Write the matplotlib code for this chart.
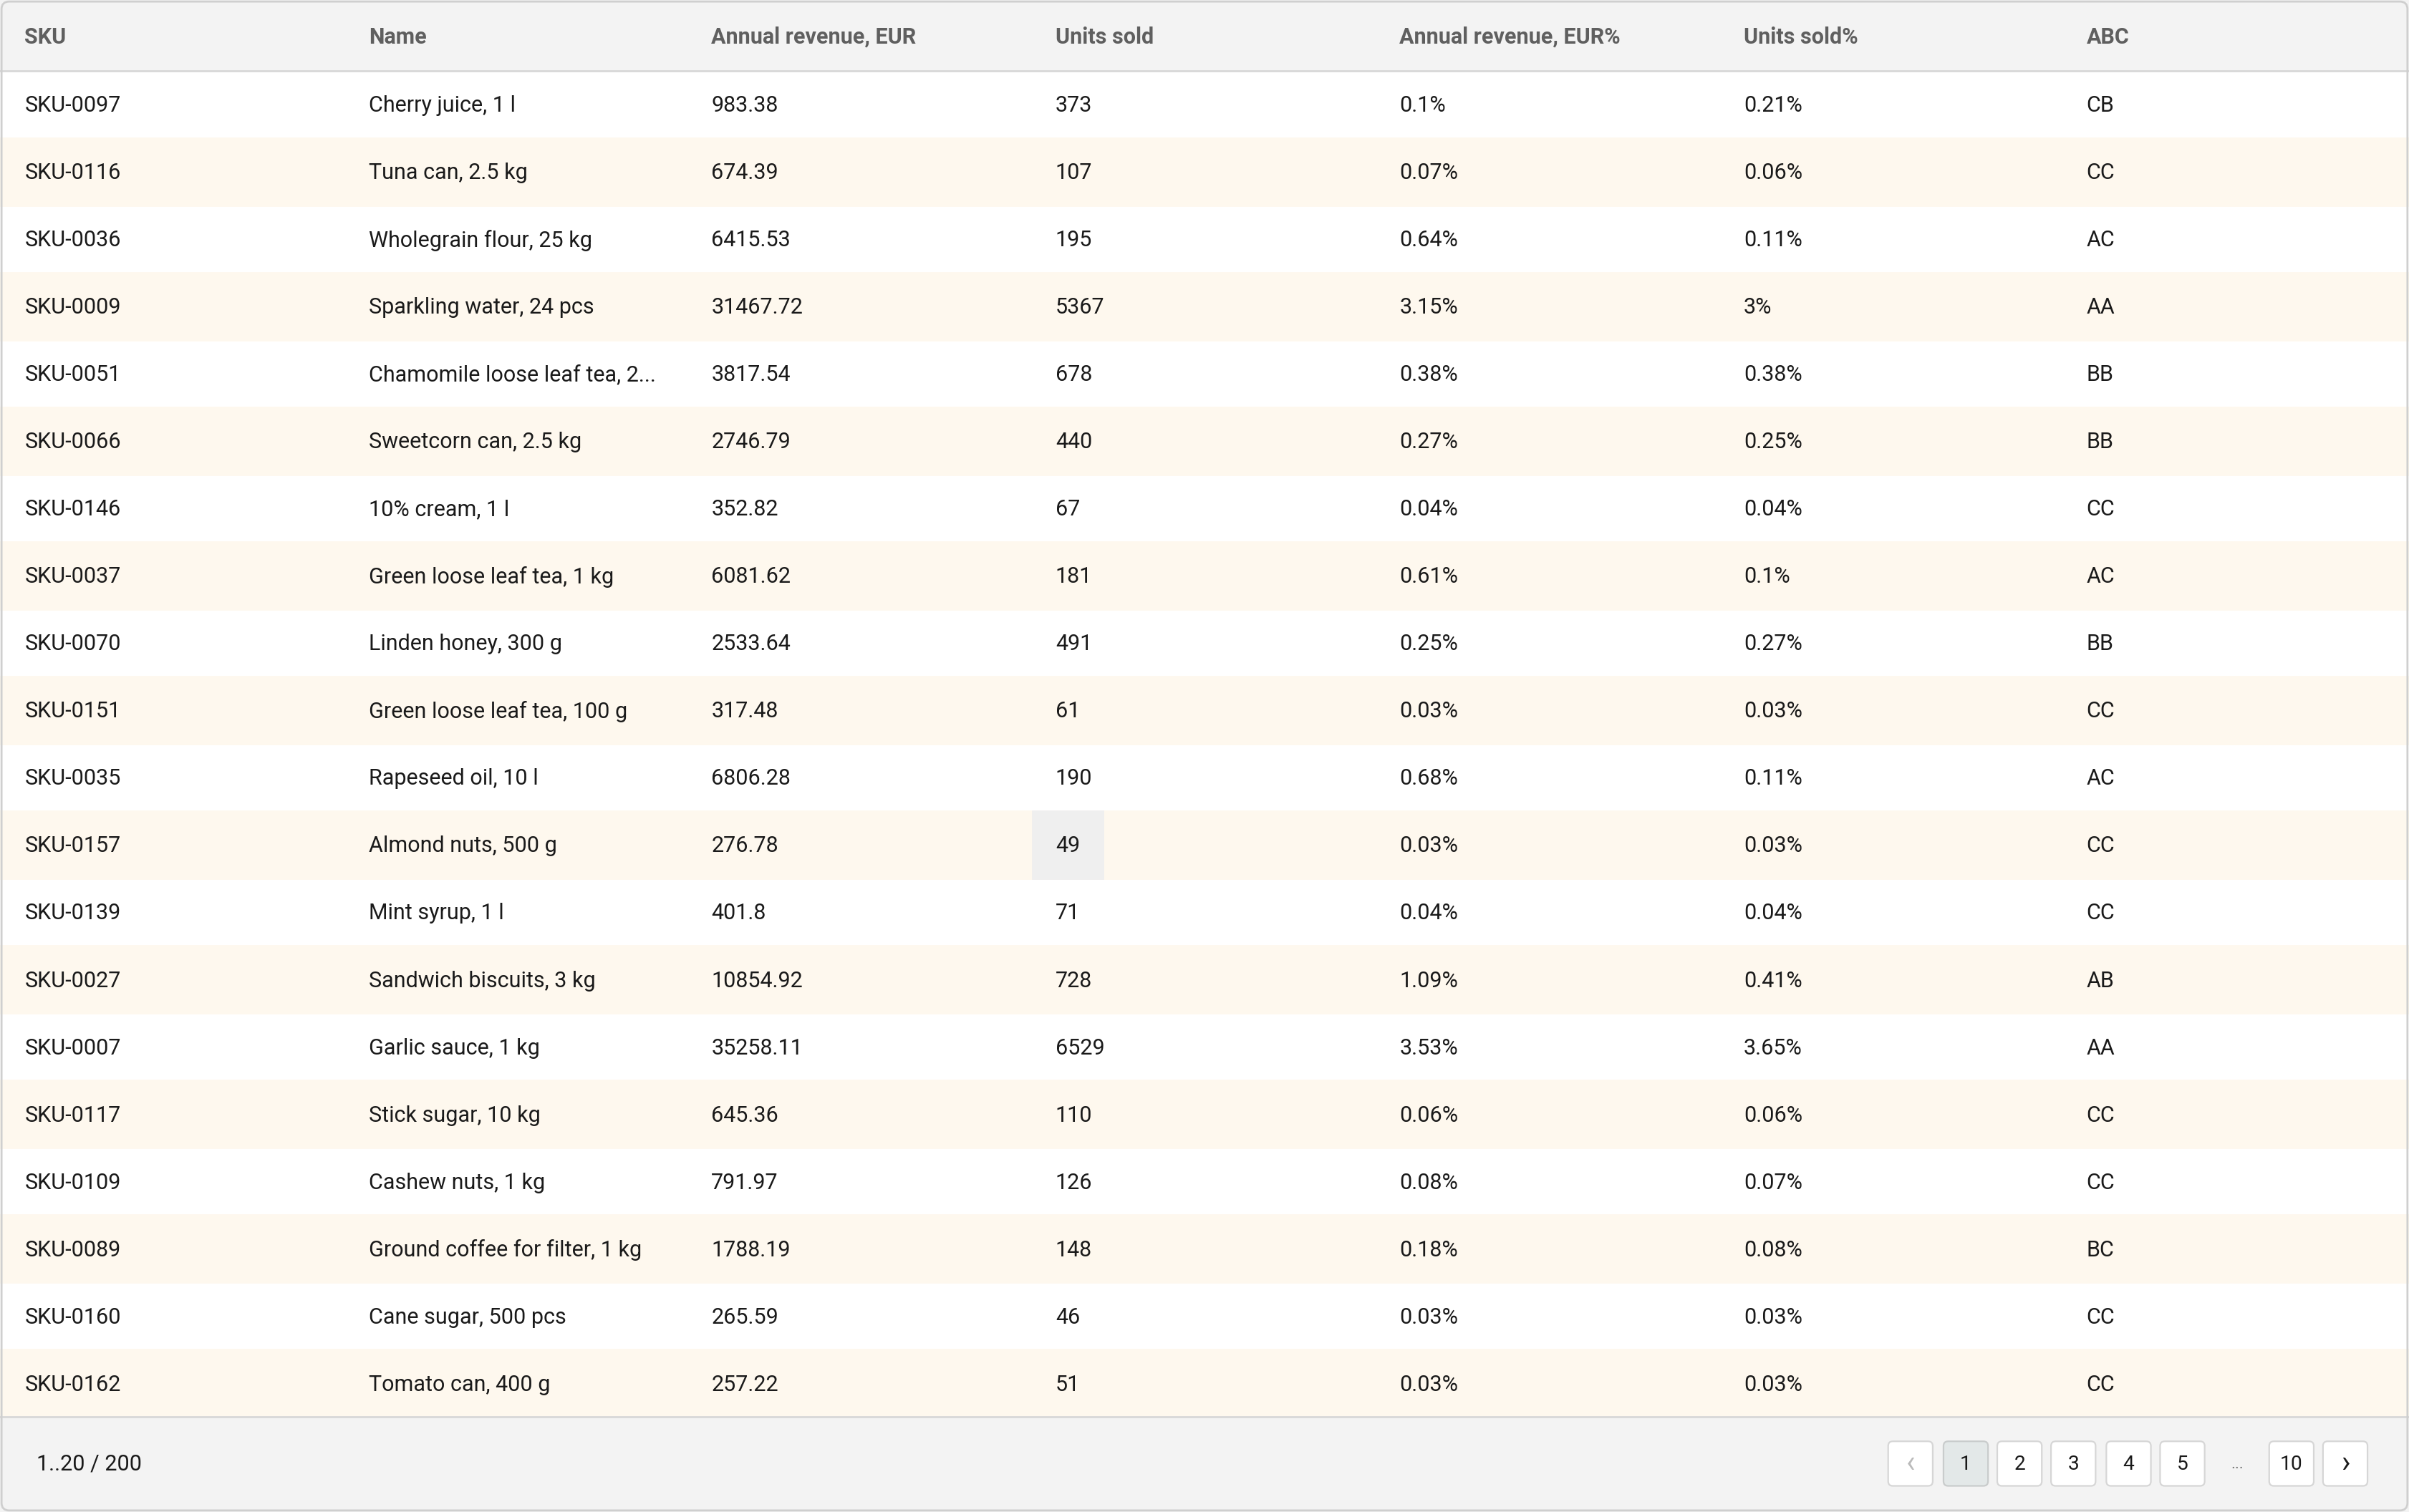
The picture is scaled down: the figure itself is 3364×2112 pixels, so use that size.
import matplotlib
matplotlib.use("Agg")
import matplotlib.pyplot as plt
from matplotlib.patches import Rectangle, FancyBboxPatch

plt.rcParams['font.family'] = ['Roboto', 'DejaVu Sans']

columns = ["SKU", "Name", "Annual revenue, EUR", "Units sold",
           "Annual revenue, EUR%", "Units sold%", "ABC"]
skus = ["SKU-0097", "SKU-0116", "SKU-0036", "SKU-0009", "SKU-0051", "SKU-0066",
        "SKU-0146", "SKU-0037", "SKU-0070", "SKU-0151", "SKU-0035", "SKU-0157",
        "SKU-0139", "SKU-0027", "SKU-0007", "SKU-0117", "SKU-0109", "SKU-0089",
        "SKU-0160", "SKU-0162"]
names = ["Cherry juice, 1 l", "Tuna can, 2.5 kg", "Wholegrain flour, 25 kg",
         "Sparkling water, 24 pcs", "Chamomile loose leaf tea, 2...",
         "Sweetcorn can, 2.5 kg", "10% cream, 1 l", "Green loose leaf tea, 1 kg",
         "Linden honey, 300 g", "Green loose leaf tea, 100 g", "Rapeseed oil, 10 l",
         "Almond nuts, 500 g", "Mint syrup, 1 l", "Sandwich biscuits, 3 kg",
         "Garlic sauce, 1 kg", "Stick sugar, 10 kg", "Cashew nuts, 1 kg",
         "Ground coffee for filter, 1 kg", "Cane sugar, 500 pcs", "Tomato can, 400 g"]
revenue = ["983.38", "674.39", "6415.53", "31467.72", "3817.54", "2746.79",
           "352.82", "6081.62", "2533.64", "317.48", "6806.28", "276.78",
           "401.8", "10854.92", "35258.11", "645.36", "791.97", "1788.19",
           "265.59", "257.22"]
units = ["373", "107", "195", "5367", "678", "440", "67", "181", "491", "61",
         "190", "49", "71", "728", "6529", "110", "126", "148", "46", "51"]
revenue_pct = ["0.1%", "0.07%", "0.64%", "3.15%", "0.38%", "0.27%", "0.04%",
               "0.61%", "0.25%", "0.03%", "0.68%", "0.03%", "0.04%", "1.09%",
               "3.53%", "0.06%", "0.08%", "0.18%", "0.03%", "0.03%"]
units_pct = ["0.21%", "0.06%", "0.11%", "3%", "0.38%", "0.25%", "0.04%", "0.1%",
             "0.27%", "0.03%", "0.11%", "0.03%", "0.04%", "0.41%", "3.65%",
             "0.06%", "0.07%", "0.08%", "0.03%", "0.03%"]
abc = ["CB", "CC", "AC", "AA", "BB", "BB", "CC", "AC", "BB", "CC", "AC", "CC",
       "CC", "AB", "AA", "CC", "CC", "BC", "CC", "CC"]
pages = ["1", "2", "3", "4", "5", "10"]
footer_text = "1..20 / 200"

W, H = 1568, 984
fig = plt.figure(figsize=(16.82, 10.56), dpi=200)
ax = fig.add_axes([0, 0, 1, 1])
ax.set_xlim(0, W)
ax.set_ylim(H, 0)
ax.axis("off")

col_x = [16, 240, 463, 687, 911, 1135, 1358]
fs = 11.0
row_h = 43.8
top = 46

# header
ax.add_patch(Rectangle((0, 0), W, top, color="#f3f3f3", zorder=0))
ax.plot([0, W], [top, top], color="#d8d8d8", lw=1)
for x, c in zip(col_x, columns):
    ax.text(x, 24, c, va="center", ha="left", fontsize=fs, color="#5f5f5f",
            fontweight="semibold")

cols = [skus, names, revenue, units, revenue_pct, units_pct, abc]
for i in range(len(skus)):
    y0 = top + i * row_h
    if i % 2 == 1:
        ax.add_patch(Rectangle((0, y0), W, row_h, color="#fef8ee", zorder=0))
    if i == 11:
        ax.add_patch(Rectangle((672, y0), 46, row_h, color="#efefef", zorder=0))
    for x, col in zip(col_x, cols):
        ax.text(x, y0 + row_h / 2 + 1, col[i], va="center", ha="left", fontsize=fs,
                color="#1a1a1a")

# footer
fy = top + len(skus) * row_h
ax.add_patch(Rectangle((0, fy), W, H - fy, color="#f3f3f3", zorder=0))
ax.plot([0, W], [fy, fy], color="#d8d8d8", lw=1)
ax.text(24, 953, footer_text, va="center", ha="left", fontsize=fs, color="#1a1a1a")

btn_x = [1229, 1265, 1300, 1335, 1371, 1406, 1477, 1512]
btn_lbl = ["<"] + pages[:5] + [pages[5], ">"]
for k, (x, lbl) in enumerate(zip(btn_x, btn_lbl)):
    fc = "#e3e8e8" if lbl == "1" else "white"
    ec = "#c9cccc" if lbl == "1" else "#d6d6d6"
    ax.add_patch(FancyBboxPatch((x, 938), 29, 29, boxstyle="round,pad=0,rounding_size=3",
                                fc=fc, ec=ec, lw=0.8, zorder=2))
    col = "#bbbbbb" if k == 0 else "#1a1a1a"
    if lbl in ("<", ">"):
        ax.text(x + 14.5, 952.5, "‹" if lbl == "<" else "›", ha="center",
                va="center", fontsize=15, color=col, zorder=3)
    else:
        ax.text(x + 14.5, 953, lbl, ha="center", va="center", fontsize=fs * 0.92,
                color=col, zorder=3)
ax.text(1456, 953, "...", ha="center", va="center", fontsize=8, color="#777777")

ax.add_patch(FancyBboxPatch((1, 1), W - 2, H - 2, boxstyle="round,pad=0,rounding_size=5",
                            fc="none", ec="#cfcfcf", lw=1, zorder=5))

fig.savefig("out.png", dpi=200)
